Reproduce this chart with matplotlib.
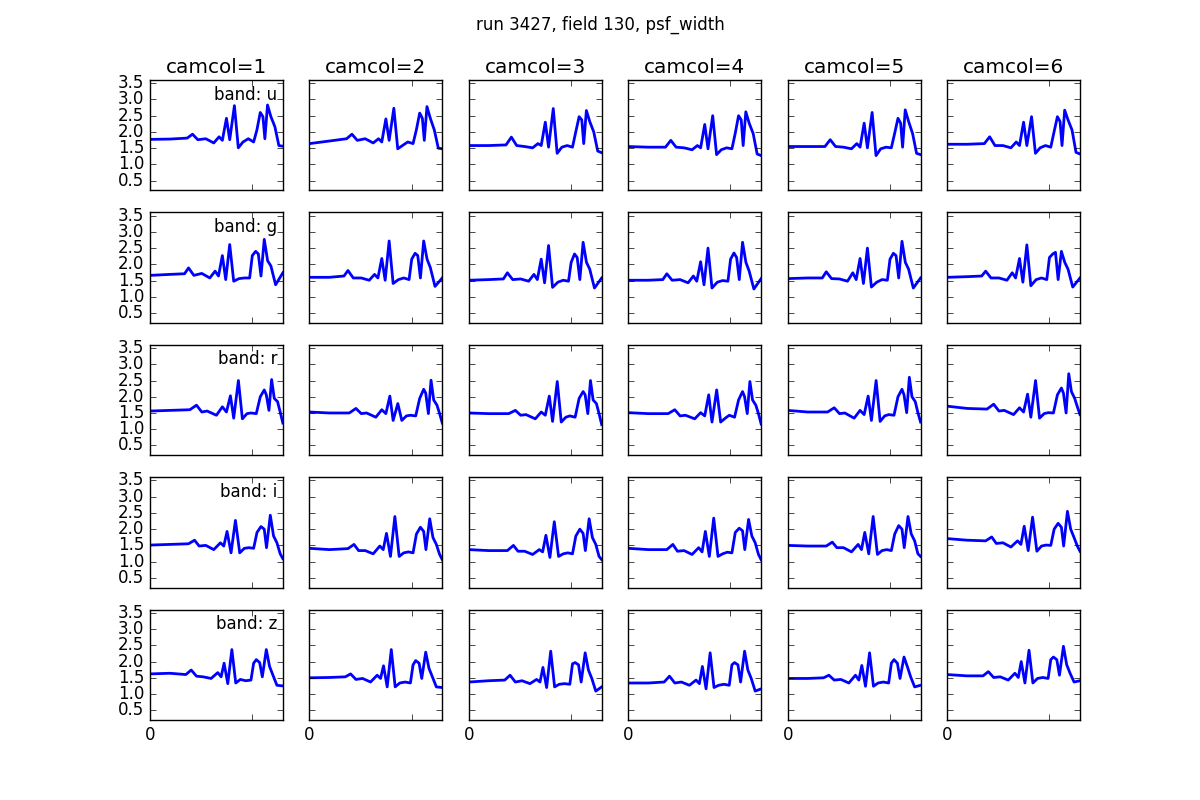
import matplotlib
matplotlib.use("Agg")
import matplotlib.pyplot as plt

plt.style.use("classic")

bands = ["u", "g", "r", "i", "z"]
camcols = [1, 2, 3, 4, 5, 6]

# sample positions along the run (one list per band, the bands are read at different times)
x_u = [0, 195, 364, 416, 468, 546, 624, 676, 708, 748, 780, 826, 864, 910, 962, 1014, 1046, 1079, 1105, 1124, 1150, 1183, 1222, 1261, 1300]
x_g = [0, 195, 338, 377, 429, 507, 585, 637, 670, 708, 741, 780, 819, 871, 923, 975, 1001, 1034, 1060, 1086, 1118, 1151, 1183, 1229, 1300]
x_r = [0, 195, 390, 455, 507, 559, 650, 708, 748, 787, 819, 865, 904, 949, 988, 1040, 1079, 1118, 1138, 1164, 1190, 1216, 1248, 1274, 1300]
x_i = [0, 195, 377, 436, 481, 546, 624, 689, 722, 754, 793, 836, 878, 923, 969, 1014, 1047, 1086, 1118, 1140, 1177, 1209, 1242, 1274, 1300]
x_z = [0, 195, 351, 403, 455, 520, 598, 663, 696, 725, 761, 801, 839, 884, 936, 988, 1014, 1040, 1073, 1099, 1138, 1170, 1203, 1242, 1300]

# psf_width per band, one list per camcol
psf_u = [
    [1.77, 1.78, 1.81, 1.93, 1.76, 1.79, 1.66, 1.85, 1.74, 2.42, 1.76, 2.81, 1.51, 1.69, 1.79, 1.69, 2.06, 2.60, 2.47, 1.79, 2.83, 2.47, 2.16, 1.58, 1.56],
    [1.64, 1.72, 1.79, 1.93, 1.74, 1.79, 1.66, 1.79, 1.69, 2.40, 1.74, 2.73, 1.48, 1.58, 1.69, 1.64, 2.06, 2.58, 2.42, 1.74, 2.78, 2.42, 2.06, 1.50, 1.48],
    [1.58, 1.58, 1.60, 1.84, 1.58, 1.55, 1.51, 1.64, 1.58, 2.30, 1.53, 2.72, 1.34, 1.53, 1.58, 1.53, 2.00, 2.47, 2.37, 1.64, 2.66, 2.32, 2.00, 1.41, 1.36],
    [1.55, 1.53, 1.53, 1.74, 1.53, 1.51, 1.45, 1.58, 1.51, 2.23, 1.48, 2.50, 1.30, 1.45, 1.51, 1.48, 1.95, 2.50, 2.37, 1.58, 2.62, 2.27, 1.95, 1.32, 1.27],
    [1.55, 1.55, 1.55, 1.76, 1.55, 1.53, 1.48, 1.64, 1.53, 2.27, 1.51, 2.60, 1.27, 1.48, 1.53, 1.51, 1.95, 2.42, 2.27, 1.53, 2.68, 2.32, 1.95, 1.34, 1.30],
    [1.62, 1.62, 1.64, 1.85, 1.58, 1.58, 1.51, 1.69, 1.58, 2.30, 1.58, 2.47, 1.34, 1.51, 1.58, 1.53, 2.00, 2.47, 2.32, 1.58, 2.67, 2.37, 2.06, 1.37, 1.32],
]
psf_g = [
    [1.66, 1.69, 1.71, 1.89, 1.66, 1.72, 1.58, 1.79, 1.64, 2.27, 1.53, 2.61, 1.48, 1.56, 1.58, 1.58, 2.27, 2.40, 2.32, 1.64, 2.77, 2.11, 1.95, 1.37, 1.74],
    [1.60, 1.60, 1.64, 1.81, 1.58, 1.58, 1.51, 1.69, 1.58, 2.18, 1.51, 2.72, 1.41, 1.53, 1.58, 1.53, 2.16, 2.34, 2.27, 1.58, 2.72, 2.16, 1.90, 1.32, 1.58],
    [1.51, 1.53, 1.55, 1.74, 1.53, 1.55, 1.48, 1.69, 1.53, 2.16, 1.43, 2.58, 1.29, 1.45, 1.51, 1.48, 2.06, 2.32, 2.21, 1.53, 2.68, 2.06, 1.85, 1.27, 1.58],
    [1.51, 1.51, 1.53, 1.71, 1.51, 1.53, 1.43, 1.64, 1.48, 2.08, 1.37, 2.50, 1.27, 1.45, 1.50, 1.48, 2.16, 2.35, 2.21, 1.53, 2.68, 2.06, 1.79, 1.24, 1.56],
    [1.56, 1.58, 1.58, 1.77, 1.56, 1.55, 1.48, 1.74, 1.53, 2.18, 1.41, 2.50, 1.30, 1.45, 1.53, 1.51, 2.16, 2.34, 2.27, 1.58, 2.71, 2.06, 1.85, 1.27, 1.58],
    [1.60, 1.62, 1.64, 1.79, 1.58, 1.58, 1.51, 1.74, 1.58, 2.18, 1.45, 2.60, 1.34, 1.53, 1.58, 1.53, 2.21, 2.32, 2.37, 1.53, 2.40, 2.06, 1.85, 1.30, 1.58],
]
psf_r = [
    [1.56, 1.58, 1.60, 1.74, 1.53, 1.56, 1.43, 1.69, 1.53, 2.03, 1.34, 2.50, 1.32, 1.48, 1.50, 1.48, 2.00, 2.21, 2.06, 1.58, 2.53, 1.95, 1.85, 1.53, 1.19],
    [1.53, 1.50, 1.50, 1.64, 1.48, 1.50, 1.37, 1.60, 1.48, 2.02, 1.27, 1.79, 1.27, 1.41, 1.43, 1.41, 1.95, 2.23, 2.11, 1.48, 2.51, 1.90, 1.74, 1.48, 1.19],
    [1.50, 1.48, 1.48, 1.58, 1.43, 1.45, 1.32, 1.53, 1.43, 2.02, 1.24, 2.47, 1.22, 1.37, 1.41, 1.37, 1.95, 2.16, 2.06, 1.48, 2.50, 1.90, 1.79, 1.48, 1.14],
    [1.51, 1.48, 1.48, 1.60, 1.41, 1.43, 1.32, 1.51, 1.41, 2.06, 1.22, 2.21, 1.22, 1.34, 1.43, 1.37, 1.90, 2.16, 2.00, 1.48, 2.47, 1.90, 1.74, 1.48, 1.16],
    [1.58, 1.53, 1.53, 1.66, 1.48, 1.50, 1.34, 1.58, 1.45, 2.02, 1.27, 2.50, 1.24, 1.41, 1.45, 1.43, 2.00, 2.23, 2.06, 1.51, 2.60, 2.00, 1.85, 1.51, 1.22],
    [1.71, 1.64, 1.62, 1.77, 1.56, 1.58, 1.45, 1.66, 1.53, 2.08, 1.37, 2.50, 1.34, 1.48, 1.51, 1.50, 2.06, 2.27, 2.11, 1.50, 2.71, 2.16, 1.95, 1.69, 1.45],
]
psf_i = [
    [1.51, 1.53, 1.55, 1.66, 1.48, 1.50, 1.37, 1.58, 1.48, 1.93, 1.27, 2.27, 1.27, 1.41, 1.43, 1.41, 1.90, 2.08, 2.00, 1.43, 2.43, 1.79, 1.58, 1.24, 1.09],
    [1.41, 1.37, 1.40, 1.53, 1.34, 1.34, 1.24, 1.48, 1.37, 1.87, 1.16, 2.39, 1.16, 1.27, 1.30, 1.27, 1.85, 2.06, 1.93, 1.37, 2.32, 1.74, 1.53, 1.22, 1.06],
    [1.37, 1.34, 1.34, 1.50, 1.32, 1.32, 1.22, 1.37, 1.30, 1.81, 1.13, 2.23, 1.16, 1.24, 1.27, 1.24, 1.79, 2.00, 1.87, 1.34, 2.32, 1.74, 1.53, 1.16, 1.06],
    [1.41, 1.37, 1.37, 1.53, 1.32, 1.34, 1.22, 1.43, 1.30, 1.93, 1.16, 2.34, 1.16, 1.24, 1.29, 1.27, 1.90, 2.03, 1.95, 1.37, 2.30, 1.79, 1.58, 1.22, 1.06],
    [1.50, 1.48, 1.48, 1.60, 1.43, 1.43, 1.30, 1.53, 1.37, 1.90, 1.24, 2.39, 1.22, 1.34, 1.37, 1.34, 1.85, 2.11, 2.00, 1.43, 2.39, 1.85, 1.64, 1.24, 1.16],
    [1.71, 1.66, 1.64, 1.76, 1.56, 1.58, 1.45, 1.64, 1.53, 2.09, 1.34, 2.37, 1.32, 1.48, 1.51, 1.50, 2.00, 2.18, 2.06, 1.48, 2.55, 2.00, 1.74, 1.48, 1.32],
]
psf_z = [
    [1.62, 1.64, 1.60, 1.74, 1.55, 1.53, 1.48, 1.66, 1.53, 1.95, 1.32, 2.37, 1.34, 1.45, 1.41, 1.43, 1.95, 2.06, 1.97, 1.53, 2.37, 1.85, 1.58, 1.27, 1.25],
    [1.50, 1.51, 1.53, 1.62, 1.45, 1.48, 1.37, 1.58, 1.48, 1.87, 1.22, 2.37, 1.22, 1.34, 1.37, 1.34, 1.90, 2.03, 1.95, 1.48, 2.29, 1.79, 1.53, 1.22, 1.20],
    [1.37, 1.41, 1.43, 1.58, 1.37, 1.41, 1.32, 1.45, 1.37, 1.82, 1.20, 2.32, 1.22, 1.30, 1.32, 1.30, 1.93, 1.97, 1.90, 1.37, 2.27, 1.74, 1.48, 1.09, 1.22],
    [1.34, 1.34, 1.37, 1.55, 1.34, 1.37, 1.27, 1.43, 1.32, 1.85, 1.16, 2.27, 1.20, 1.27, 1.30, 1.27, 1.90, 1.97, 1.90, 1.37, 2.32, 1.74, 1.48, 1.09, 1.16],
    [1.48, 1.48, 1.50, 1.58, 1.43, 1.45, 1.34, 1.58, 1.43, 1.88, 1.24, 2.27, 1.24, 1.34, 1.37, 1.34, 1.95, 2.06, 1.95, 1.48, 2.14, 1.85, 1.53, 1.22, 1.27],
    [1.60, 1.56, 1.56, 1.69, 1.51, 1.53, 1.43, 1.64, 1.51, 2.00, 1.34, 2.35, 1.34, 1.48, 1.51, 1.48, 2.06, 2.14, 2.06, 1.58, 2.47, 1.90, 1.64, 1.37, 1.41],
]

xs = [x_u, x_g, x_r, x_i, x_z]
psf = [psf_u, psf_g, psf_r, psf_i, psf_z]

fig, axes = plt.subplots(5, 6, figsize=(12, 8), dpi=100, sharex=True, sharey=True,
                         facecolor="white")
fig.subplots_adjust(left=0.125, right=0.9, bottom=0.1, top=0.9, wspace=0.2, hspace=0.2)

for row, band in enumerate(bands):
    for col, camcol in enumerate(camcols):
        ax = axes[row, col]
        ax.plot(xs[row], psf[row][col], color="b", linewidth=2)
        ax.set_xlim(0, 1300)
        ax.set_ylim(0.2, 3.6)
        ax.set_yticks([0.5, 1.0, 1.5, 2.0, 2.5, 3.0, 3.5])
        ax.set_xticks([0, 1000])
        ax.set_xticklabels(["0", ""])
        if row == 0:
            ax.set_title("camcol=%d" % camcol)
        if col == 0:
            ax.text(0.96, 0.95, "band: %s" % band, transform=ax.transAxes,
                    ha="right", va="top", fontsize=12)

fig.suptitle("run 3427, field 130, psf_width")
fig.savefig("out.png", dpi=100, facecolor="white")
